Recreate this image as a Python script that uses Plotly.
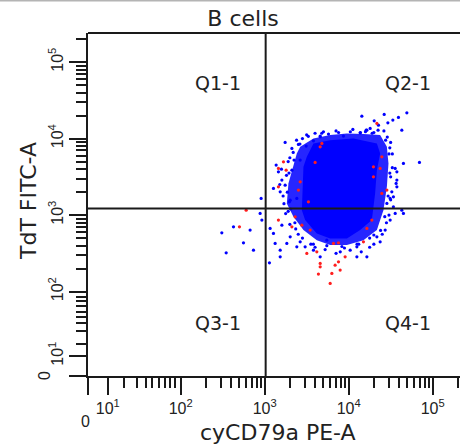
import numpy as np
import plotly.graph_objects as go

# ---- axis definition (values are log10 decades of intensity, biexponential display) ----
x_tick_vals = [0.899, 1.133, 2, 3, 4, 5]
y_tick_vals = [0.899, 1.157, 2, 3, 4, 5]
tick_text = ["", "10<sup>1</sup>", "10<sup>2</sup>", "10<sup>3</sup>", "10<sup>4</sup>", "10<sup>5</sup>"]
low_decade_minor = [1.32, 1.486, 1.586, 1.664, 1.74, 1.814, 1.872, 1.93]
zero_label = "0"

x_title = "cyCD79a PE-A"
y_title = "TdT FITC-A"
plot_title = "B cells"

# quadrant gate (decades)
gate_x = 3.012
gate_y = 3.088
quadrant_names = ["Q1-1", "Q2-1", "Q3-1", "Q4-1"]

# dense core of the population (outline, decades)
core_x = [3.502, 3.581, 3.780, 4.057, 4.336, 4.375, 4.336, 4.315, 4.276, 4.137,
          3.979, 3.780, 3.621, 3.482, 3.443, 3.462]
core_y = [3.762, 3.937, 3.980, 4.003, 3.937, 3.807, 3.588, 3.284, 2.935, 2.804,
          2.695, 2.695, 2.761, 2.935, 3.065, 3.631]

# less dense rim of the population (outline, decades)
rim_x = [3.423, 3.581, 3.780, 3.979, 4.176, 4.375, 4.455, 4.474, 4.455, 4.414, 4.336,
         4.176, 3.979, 3.780, 3.621, 3.462, 3.343, 3.264, 3.283, 3.343, 3.383]
rim_y = [3.893, 4.003, 4.046, 4.068, 4.059, 4.046, 3.893, 3.676, 3.370, 3.065, 2.804,
         2.673, 2.608, 2.608, 2.673, 2.804, 2.978, 3.153, 3.414, 3.631, 3.807]

# scattered events (blue)
blue_x = [4.157, 4.423, 4.693, 4.304, 4.467, 4.526, 4.593, 4.256, 4.208, 4.137,
          4.633, 4.843, 4.652, 4.554, 4.574, 4.574, 4.565, 4.514, 4.494, 4.355,
          4.574, 4.533, 4.435, 4.494, 4.554, 4.633, 4.652, 4.533, 4.455, 4.336,
          4.375, 4.217, 4.098, 4.018, 4.098, 3.740, 3.661, 3.581, 2.490, 2.629,
          2.827, 2.748, 2.542, 2.867, 2.946, 2.967, 3.065, 3.057, 3.105, 3.205,
          3.264, 3.304, 3.185, 3.383, 3.423, 3.185, 3.125, 3.482, 2.958, 3.244,
          3.402, 3.324, 3.494, 3.581, 3.661, 3.760, 3.938, 3.137, 3.164, 3.105,
          3.185, 3.295, 3.324, 3.205, 3.244, 3.304, 3.383, 3.482, 3.423, 3.661,
          4.217, 4.40, 4.30, 4.25, 4.15, 3.90, 3.85, 3.55, 3.40, 3.30,
          3.25, 3.22, 3.26, 3.30, 3.38, 3.50, 3.85, 4.05, 4.30, 4.42,
          4.50, 4.52, 4.50, 4.48, 4.45,
          3.20, 3.23, 3.28, 3.18, 3.28, 3.34, 3.45, 3.60, 3.72, 3.95,
          4.10, 4.25, 4.38, 4.50, 4.52, 4.49, 4.46, 4.35, 4.20, 3.70, 3.60,
          3.36, 3.31, 3.27, 3.29, 3.35, 3.42, 3.52, 3.68, 3.88, 4.02,
          4.14, 4.28, 4.44, 4.48, 4.49, 4.47, 4.43, 4.30, 4.12, 3.92,
          3.74, 3.58, 3.45, 3.37]
blue_y = [4.294, 4.316, 4.337, 4.233, 4.207, 4.242, 4.277, 4.133, 4.111, 4.076,
          4.111, 3.689, 3.676, 3.610, 3.566, 3.458, 3.414, 3.305, 3.218, 4.176,
          3.370, 3.239, 2.804, 2.935, 3.022, 3.065, 3.022, 3.108, 3.153, 2.716,
          2.651, 2.455, 2.455, 2.542, 2.586, 2.673, 2.455, 2.542, 2.769, 2.847,
          2.804, 2.638, 2.507, 2.542, 3.022, 2.935, 2.826, 2.376, 2.761, 2.869,
          2.630, 2.716, 2.542, 2.586, 2.651, 2.455, 2.630, 2.586, 3.218, 3.950,
          3.924, 3.872, 3.902, 3.971, 4.033, 4.059, 4.033, 3.654, 3.566, 3.349,
          3.305, 3.174, 3.588, 3.458, 3.392, 3.196, 3.218, 3.370, 3.719, 4.024,
          4.111, 2.75, 2.62, 2.58, 2.52, 2.52, 2.50, 2.62, 2.75, 2.88,
          3.02, 3.25, 3.52, 3.75, 3.98, 4.05, 4.10, 4.12, 4.08, 4.10,
          3.95, 3.80, 3.50, 3.00, 2.90,
          3.60, 3.15, 3.05, 3.40, 3.70, 3.82, 4.00, 2.58, 2.55, 2.57,
          2.62, 2.70, 2.80, 3.20, 3.62, 3.88, 4.02, 4.11, 4.09, 4.09, 4.07,
          2.90, 3.08, 3.30, 3.55, 3.72, 3.93, 4.03, 4.07, 4.08, 4.09,
          4.08, 4.07, 3.98, 3.80, 3.55, 3.25, 2.98, 2.74, 2.62, 2.59,
          2.60, 2.62, 2.70, 2.82]

# scattered events (red)
red_x = [2.780, 2.700, 3.164, 3.324, 3.363, 3.443, 3.542, 3.502, 3.621, 3.661,
         3.661, 3.640, 3.780, 3.800, 3.839, 3.899, 3.879, 3.819, 3.879, 3.958,
         4.176, 4.217, 4.276, 3.224, 3.164, 3.256, 3.164, 3.423, 3.402, 3.521,
         3.601, 3.661, 3.681, 4.395, 4.295, 4.295, 4.375, 4.455, 4.395, 4.336]
red_y = [3.065, 2.847, 2.935, 2.847, 2.978, 2.869, 2.804, 2.499, 2.520, 2.369,
         2.324, 2.229, 2.107, 2.238, 2.346, 2.281, 2.390, 2.630, 2.638, 2.455,
         2.651, 2.826, 2.935, 3.697, 3.610, 3.588, 3.370, 3.435, 3.327, 3.174,
         3.689, 3.893, 3.937, 3.762, 3.631, 3.501, 3.610, 3.327, 3.284, 4.199]

# ---- figure ----
W, H = 460, 444
ML, MR, MT, MB = 88, 0, 33, 68
pw, ph = W - ML - MR, H - MT - MB
x_per_dec, y_per_dec = 84.0, 76.5
x0 = 0.897
y0 = 0.897
x_range = [x0, x0 + pw / x_per_dec]
y_range = [y0, y0 + ph / y_per_dec]

log_minor = [d + np.log10(k) for d in (2, 3, 4) for k in range(2, 10)] + [5 + np.log10(2)]
minor_vals = low_decade_minor + log_minor

axis_col = "#1a1a1a"
tick_font = dict(family="Liberation Sans, Arial, sans-serif", size=16, color="#222")
label_font = dict(family="DejaVu Sans, Verdana, sans-serif", size=22, color="#222")

fig = go.Figure()
fig.add_trace(go.Scatter(x=rim_x, y=rim_y, fill="toself", mode="lines",
                         line=dict(width=0, color="rgba(0,0,255,0)"),
                         fillcolor="rgba(0,0,255,0.85)", hoverinfo="skip", showlegend=False))
fig.add_trace(go.Scatter(x=core_x, y=core_y, fill="toself", mode="lines",
                         line=dict(width=0, color="rgba(0,0,255,0)"),
                         fillcolor="rgb(0,0,255)", hoverinfo="skip", showlegend=False))
fig.add_trace(go.Scatter(x=blue_x, y=blue_y, mode="markers",
                         marker=dict(size=3.2, color="rgb(0,0,255)", line=dict(width=0)),
                         showlegend=False))
fig.add_trace(go.Scatter(x=red_x, y=red_y, mode="markers",
                         marker=dict(size=3.2, color="rgb(255,30,30)", line=dict(width=0)),
                         showlegend=False))
# quadrant gate lines
fig.add_trace(go.Scatter(x=[gate_x, gate_x], y=[0, 6], mode="lines",
                         line=dict(color=axis_col, width=2), hoverinfo="skip", showlegend=False))
fig.add_trace(go.Scatter(x=[0, 6], y=[gate_y, gate_y], mode="lines",
                         line=dict(color=axis_col, width=2), hoverinfo="skip", showlegend=False))

common_axis = dict(showline=True, linecolor=axis_col, linewidth=2, ticks="outside",
                   ticklen=17, tickwidth=2, tickcolor=axis_col, showgrid=False,
                   zeroline=False, tickmode="array", tickfont=tick_font,
                   minor=dict(tickmode="array", tickvals=minor_vals, ticks="outside",
                              ticklen=10, tickwidth=1.5, tickcolor=axis_col, showgrid=False))

fig.update_xaxes(range=x_range, tickvals=x_tick_vals, ticktext=tick_text, **common_axis)
fig.update_yaxes(range=y_range, tickvals=y_tick_vals, ticktext=tick_text, tickangle=-90,
                 **common_axis)

def px_to_paper(px, py):
    return (px - ML) / pw, (H - MB - py) / ph

annotations = []
q_pos = [(218, 82.5), (407.5, 82.5), (218, 322.5), (407.5, 322.5)]
for name, (qx, qy) in zip(quadrant_names, q_pos):
    ax, ay = px_to_paper(qx, qy)
    annotations.append(dict(x=ax, y=ay, xref="paper", yref="paper", text=name, showarrow=False,
                            font=dict(family="DejaVu Sans, Verdana, sans-serif", size=19, color="#222"),
                            xanchor="center", yanchor="middle"))
ax, ay = px_to_paper(85, 421)
annotations.append(dict(x=ax, y=ay, xref="paper", yref="paper", text=zero_label, showarrow=False,
                        font=tick_font, xanchor="center", yanchor="middle"))
ax, ay = px_to_paper(44, 376)
annotations.append(dict(x=ax, y=ay, xref="paper", yref="paper", text=zero_label, showarrow=False,
                        font=tick_font, xanchor="center", yanchor="middle", textangle=-90))
ax, ay = px_to_paper(277.5, 432)
annotations.append(dict(x=ax, y=ay, xref="paper", yref="paper", text=x_title, showarrow=False,
                        font=label_font, xanchor="center", yanchor="middle"))
ax, ay = px_to_paper(28, 201)
annotations.append(dict(x=ax, y=ay, xref="paper", yref="paper", text=y_title, showarrow=False,
                        font=label_font, xanchor="center", yanchor="middle", textangle=-90))

_, top_y = px_to_paper(0, 0.7)
shapes = [
    dict(type="line", xref="paper", yref="paper", x0=0, x1=1, y0=1, y1=1,
         line=dict(color=axis_col, width=2)),
    dict(type="line", xref="paper", yref="paper", x0=-ML / pw, x1=1.01, y0=top_y, y1=top_y,
         line=dict(color="#b4b4b4", width=1.5)),
]

fig.update_layout(
    width=W, height=H,
    margin=dict(l=ML, r=MR, t=MT, b=MB, pad=0),
    paper_bgcolor="white", plot_bgcolor="white",
    title=dict(text=plot_title, x=(243 - ML) / pw, xref="paper", xanchor="center",
               y=1 - 18 / H, yref="container", yanchor="middle",
               font=dict(family="DejaVu Sans, Verdana, sans-serif", size=22, color="#222")),
    annotations=annotations, shapes=shapes, showlegend=False,
)

fig.write_html("out.html", config={"displayModeBar": False},
               post_script="document.body.style.margin='0';document.body.style.overflow='hidden';")
